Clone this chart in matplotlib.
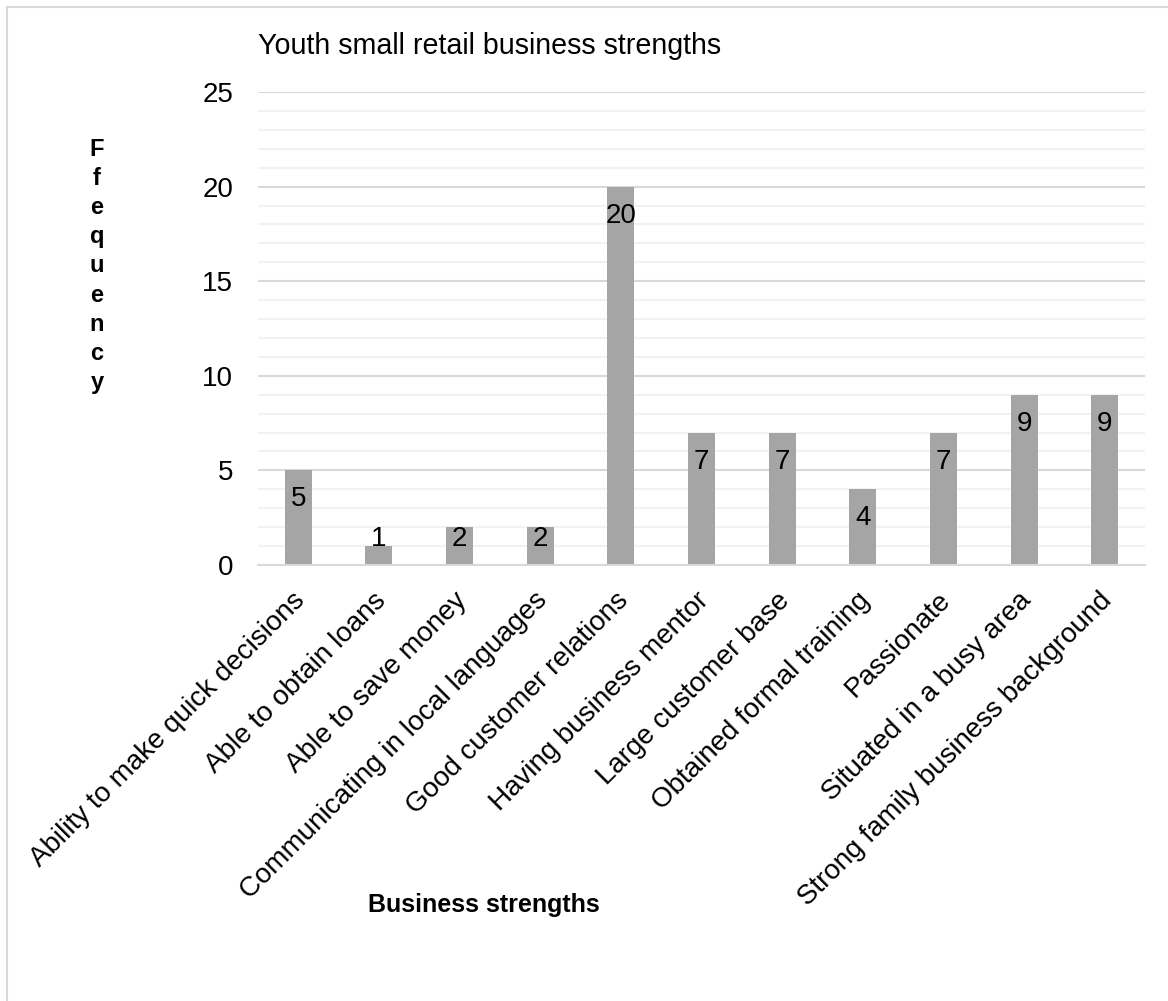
import matplotlib
matplotlib.use("Agg")
import matplotlib.pyplot as plt
from matplotlib.patches import Rectangle
from matplotlib.ticker import MultipleLocator
from matplotlib.transforms import ScaledTranslation

categories = [
    "Ability to make quick decisions",
    "Able to obtain loans",
    "Able to save money",
    "Communicating in local languages",
    "Good customer relations",
    "Having business mentor",
    "Large customer base",
    "Obtained formal training",
    "Passionate",
    "Situated in a busy area",
    "Strong family business background",
]
values = [5, 1, 2, 2, 20, 7, 7, 4, 7, 9, 9]
yticks = [0, 5, 10, 15, 20, 25]

title = "Youth small retail business strengths"
xlabel = "Business strengths"
ylabel = "Ffequency"

plt.rcParams['font.family'] = ['Liberation Sans', 'DejaVu Sans']

W, H = 1168, 1001
fig = plt.figure(figsize=(W / 100, H / 100), dpi=100)
fig.patch.set_facecolor("white")

# outer chart border (only top/left visible in reference)
fig.add_artist(Rectangle((7 / W, -0.05), 1.1, 1 - 7 / H + 0.05,
                         transform=fig.transFigure, fill=False,
                         edgecolor="#D9D9D9", linewidth=1.5))

left, right = 258 / W, 1145 / W
bottom, top = 1 - 565 / H, 1 - 92 / H
ax = fig.add_axes([left, bottom, right - left, top - bottom])

x = list(range(len(categories)))
ax.bar(x, values, width=0.335, color="#A5A5A5", zorder=3)

ax.set_xlim(-0.5, len(categories) - 0.5)
ax.set_ylim(0, 25)
ax.set_yticks(yticks)
ax.yaxis.set_minor_locator(MultipleLocator(1))
ax.grid(axis="y", which="major", color="#D9D9D9", linewidth=1.5, zorder=1)
ax.grid(axis="y", which="minor", color="#F2F2F2", linewidth=1.5, zorder=0)
ax.tick_params(axis="y", which="both", length=0, pad=18, labelsize=20)
ax.tick_params(axis="x", length=0, pad=6)
for s in ["top", "right", "left"]:
    ax.spines[s].set_visible(False)
ax.spines["bottom"].set_color("#D9D9D9")
ax.spines["bottom"].set_linewidth(1.5)
ax.spines["bottom"].set_zorder(4)

ax.set_xticks(x)
ax.set_xticklabels(categories, rotation=45, ha="right", va="top",
                   rotation_mode="anchor", fontsize=20)
shift = ScaledTranslation(-6 / 100, -14 / 100, fig.dpi_scale_trans)
for lab in ax.get_xticklabels():
    lab.set_transform(lab.get_transform() + shift)

# data labels, inside end
for xi, v in zip(x, values):
    yl = max(v - 1.53, 1.37)
    ax.text(xi, yl, str(v), ha="center", va="center", fontsize=20,
            color="black", zorder=5)

fig.text(258 / W, 1 - 46 / H, title, ha="left", va="center", fontsize=20.6)
fig.text(97 / W, 1 - 266 / H, "\n".join(ylabel), ha="center", va="center",
         fontsize=17, fontweight="bold", linespacing=1.34)
fig.text(484 / W, 1 - 905 / H, xlabel, ha="center", va="center",
         fontsize=18, fontweight="bold")

fig.savefig("out.png", dpi=100, facecolor="white")
